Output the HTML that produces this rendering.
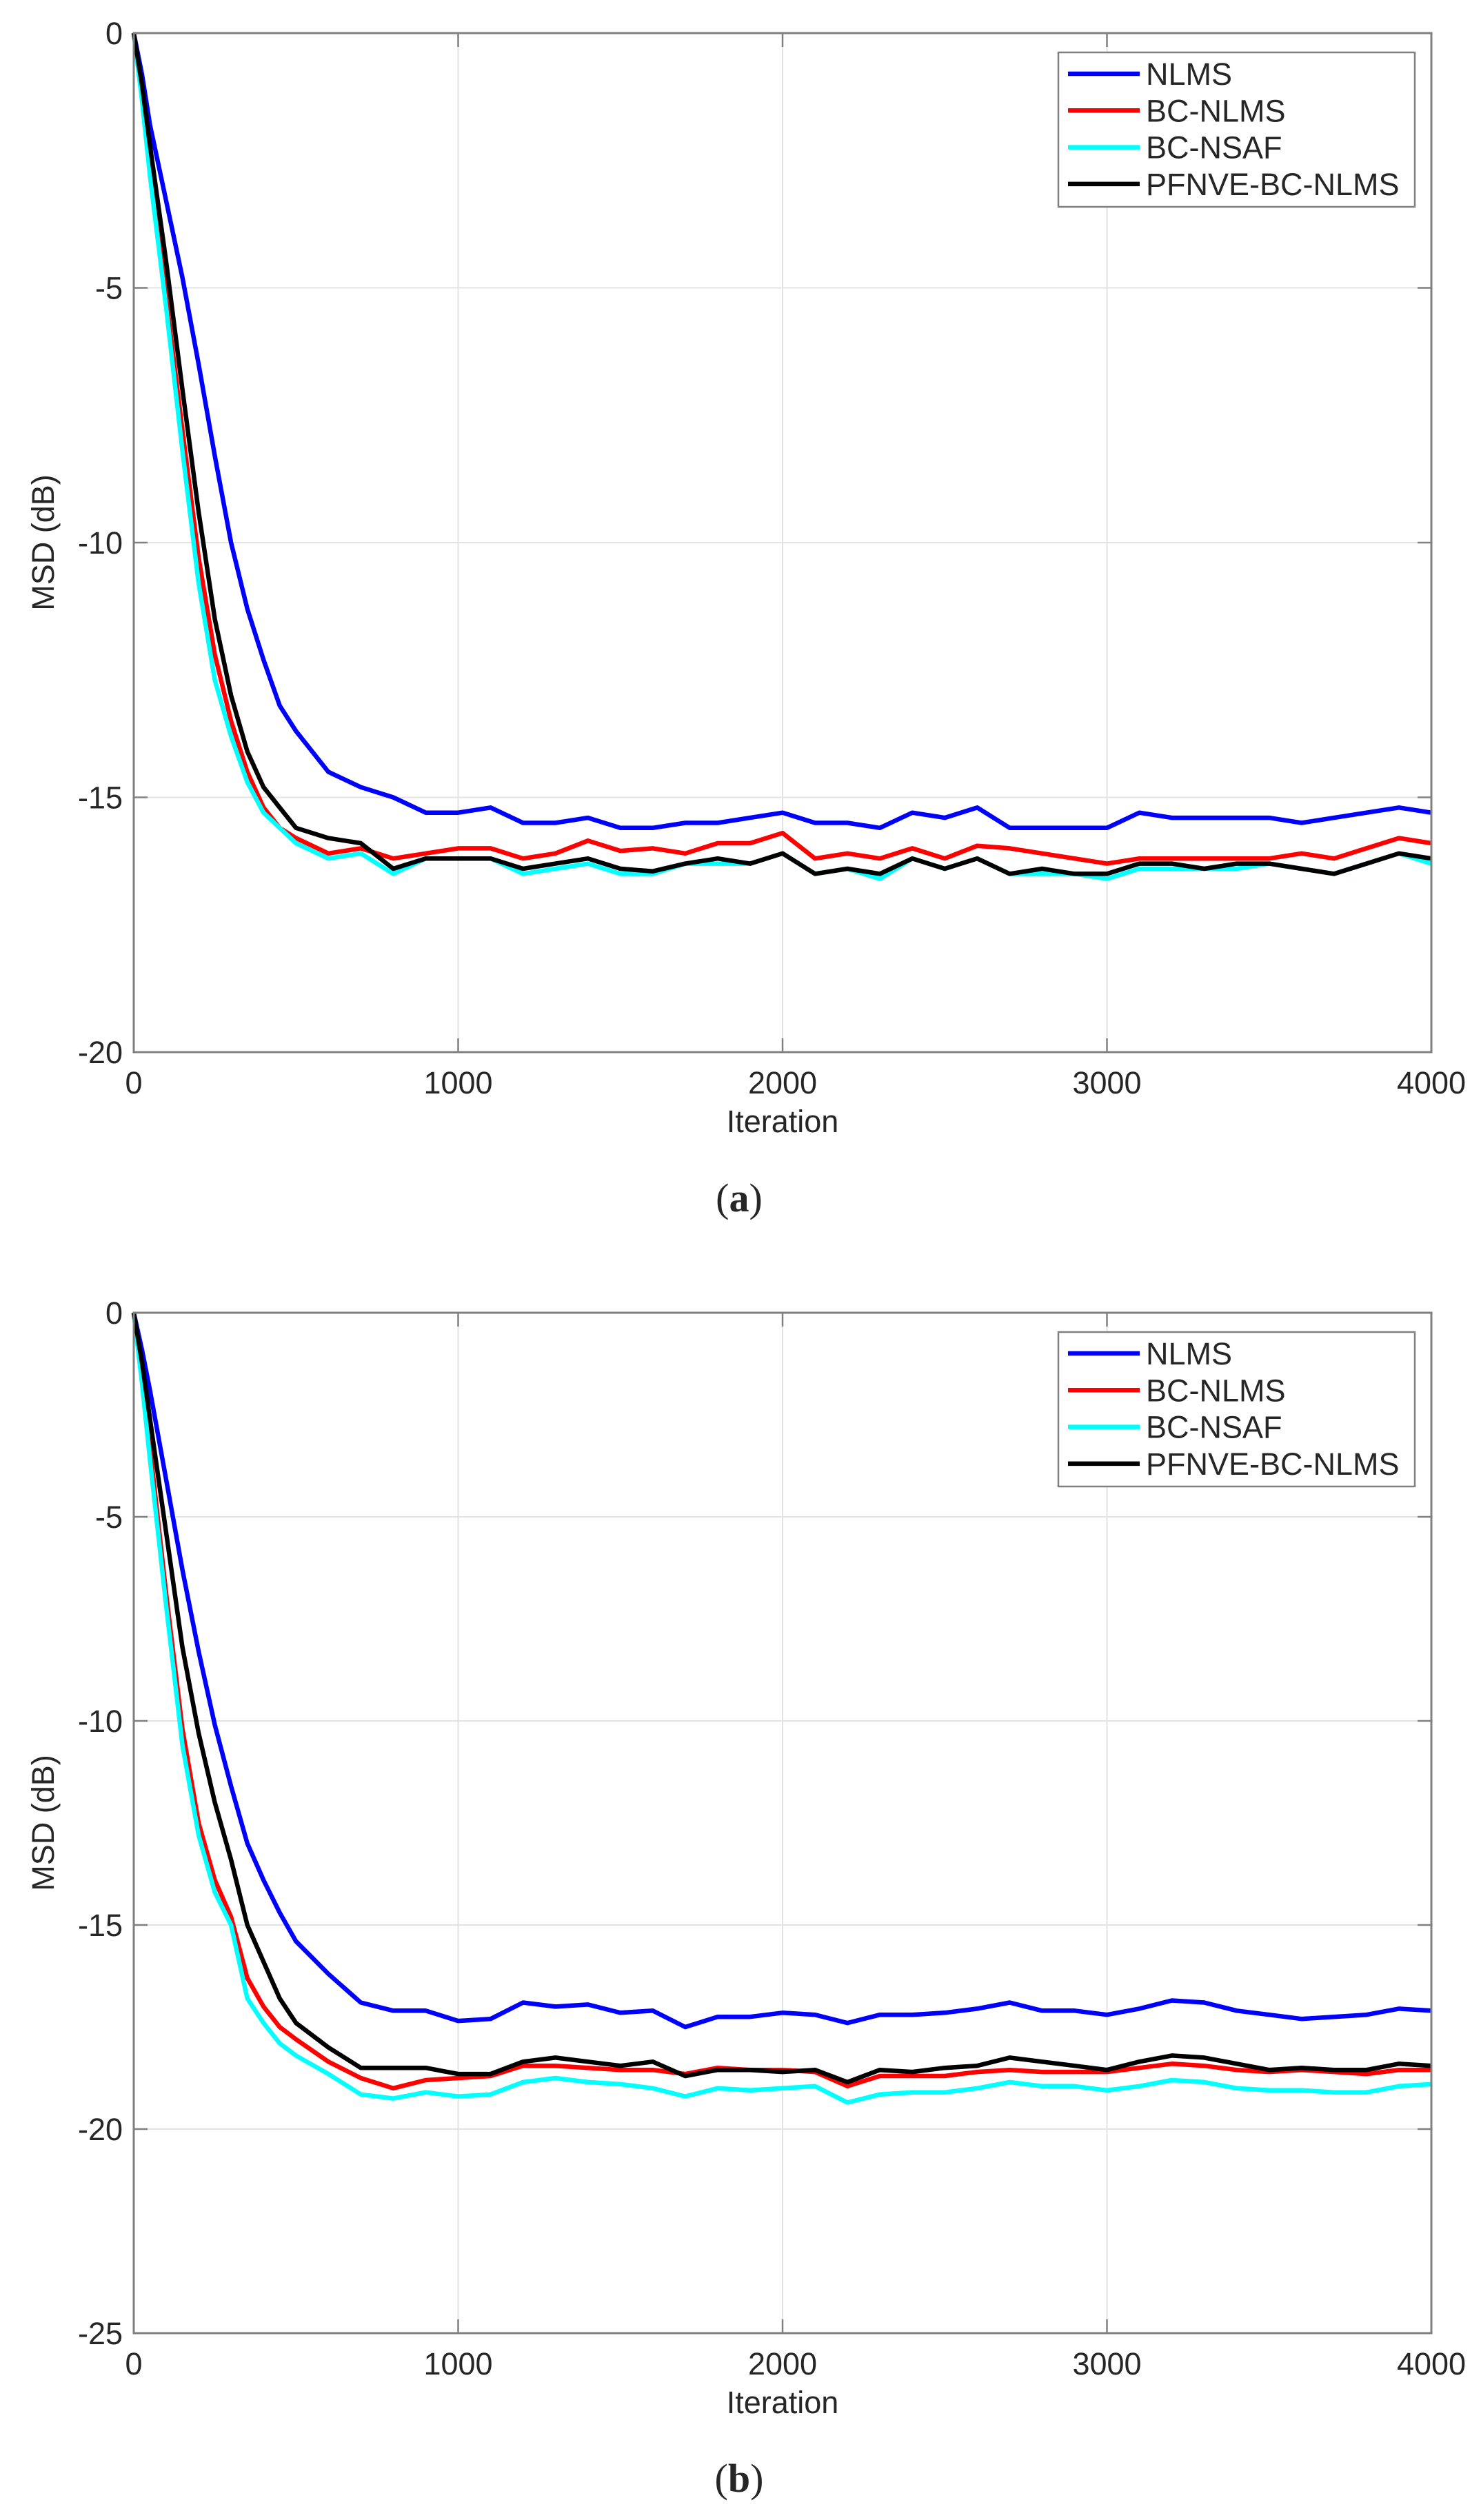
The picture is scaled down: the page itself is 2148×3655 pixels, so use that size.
<!DOCTYPE html>
<html><head><meta charset="utf-8"><style>
html,body{margin:0;padding:0;background:#fff;}
svg{display:block;}
text{font-family:"Liberation Sans",sans-serif;fill:#262626;}
</style></head><body>
<svg id="fig" width="2148" height="3655" viewBox="0 0 2148 3655" xmlns="http://www.w3.org/2000/svg"></svg>
<script>
// ---- shared data ----
const iters = [0,25,50,100,150,200,250,300,350,400,450,500,600,700,800,900,1000,1100,1200,1300,1400,1500,1600,1700,1800,1900,2000,2100,2200,2300,2400,2500,2600,2700,2800,2900,3000,3100,3200,3300,3400,3500,3600,3700,3800,3900,4000];
const seriesNames = ["NLMS","BC-NLMS","BC-NSAF","PFNVE-BC-NLMS"];
const xTicks = [0,1000,2000,3000,4000];
const yTicksA = [0,-5,-10,-15,-20];
const yTicksB = [0,-5,-10,-15,-20,-25];
// ---- panel (a) ----
const nlmsA = [0,-0.8,-1.8,-3.3,-4.8,-6.5,-8.3,-10.0,-11.3,-12.3,-13.2,-13.7,-14.5,-14.8,-15.0,-15.3,-15.3,-15.2,-15.5,-15.5,-15.4,-15.6,-15.6,-15.5,-15.5,-15.4,-15.3,-15.5,-15.5,-15.6,-15.3,-15.4,-15.2,-15.6,-15.6,-15.6,-15.6,-15.3,-15.4,-15.4,-15.4,-15.4,-15.5,-15.4,-15.3,-15.2,-15.3];
const bcnlmsA = [0,-1.2,-2.6,-5.2,-7.8,-10.3,-12.2,-13.5,-14.5,-15.2,-15.6,-15.8,-16.1,-16.0,-16.2,-16.1,-16.0,-16.0,-16.2,-16.1,-15.85,-16.05,-16.0,-16.1,-15.9,-15.9,-15.7,-16.2,-16.1,-16.2,-16.0,-16.2,-15.95,-16.0,-16.1,-16.2,-16.3,-16.2,-16.2,-16.2,-16.2,-16.2,-16.1,-16.2,-16.0,-15.8,-15.9];
const bcnsafA = [0,-1.3,-2.8,-5.4,-8.2,-10.8,-12.7,-13.8,-14.7,-15.3,-15.6,-15.9,-16.2,-16.1,-16.5,-16.2,-16.2,-16.2,-16.5,-16.4,-16.3,-16.5,-16.5,-16.3,-16.3,-16.3,-16.1,-16.5,-16.4,-16.6,-16.2,-16.4,-16.2,-16.5,-16.5,-16.5,-16.6,-16.4,-16.4,-16.4,-16.4,-16.3,-16.4,-16.5,-16.3,-16.1,-16.3];
const pfnveA = [0,-1.0,-2.2,-4.5,-7.0,-9.4,-11.5,-13.0,-14.1,-14.8,-15.2,-15.6,-15.8,-15.9,-16.4,-16.2,-16.2,-16.2,-16.4,-16.3,-16.2,-16.4,-16.45,-16.3,-16.2,-16.3,-16.1,-16.5,-16.4,-16.5,-16.2,-16.4,-16.2,-16.5,-16.4,-16.5,-16.5,-16.3,-16.3,-16.4,-16.3,-16.3,-16.4,-16.5,-16.3,-16.1,-16.2];
// ---- panel (b) ----
const nlmsB = [0,-0.9,-1.9,-4.1,-6.3,-8.3,-10.1,-11.6,-13.0,-13.9,-14.7,-15.4,-16.2,-16.9,-17.1,-17.1,-17.35,-17.3,-16.9,-17.0,-16.95,-17.15,-17.1,-17.5,-17.25,-17.25,-17.15,-17.2,-17.4,-17.2,-17.2,-17.15,-17.05,-16.9,-17.1,-17.1,-17.2,-17.05,-16.85,-16.9,-17.1,-17.2,-17.3,-17.25,-17.2,-17.05,-17.1];
const bcnlmsB = [0,-1.6,-3.3,-6.9,-10.2,-12.5,-13.9,-14.8,-16.3,-17.0,-17.5,-17.8,-18.35,-18.75,-19.0,-18.8,-18.75,-18.7,-18.45,-18.45,-18.5,-18.55,-18.55,-18.65,-18.5,-18.55,-18.55,-18.6,-18.95,-18.7,-18.7,-18.7,-18.6,-18.55,-18.6,-18.6,-18.6,-18.5,-18.4,-18.45,-18.55,-18.6,-18.55,-18.6,-18.65,-18.55,-18.55];
const bcnsafB = [0,-1.7,-3.6,-7.2,-10.6,-12.8,-14.2,-15.0,-16.8,-17.4,-17.9,-18.2,-18.65,-19.15,-19.25,-19.1,-19.2,-19.15,-18.85,-18.75,-18.85,-18.9,-19.0,-19.2,-19.0,-19.05,-19.0,-18.95,-19.35,-19.15,-19.1,-19.1,-19.0,-18.85,-18.95,-18.95,-19.05,-18.95,-18.8,-18.85,-19.0,-19.05,-19.05,-19.1,-19.1,-18.95,-18.9];
const pfnveB = [0,-1.2,-2.6,-5.4,-8.2,-10.3,-12.0,-13.4,-15.0,-15.9,-16.8,-17.4,-18.0,-18.5,-18.5,-18.5,-18.65,-18.65,-18.35,-18.25,-18.35,-18.45,-18.35,-18.7,-18.55,-18.55,-18.6,-18.55,-18.85,-18.55,-18.6,-18.5,-18.45,-18.25,-18.35,-18.45,-18.55,-18.35,-18.2,-18.25,-18.4,-18.55,-18.5,-18.55,-18.55,-18.4,-18.45];

const colors = ["#0000ff","#ff0000","#00ffff","#000000"];
const NS = "http://www.w3.org/2000/svg";
const svg = document.getElementById("fig");
function mk(tag, attrs, parent){
  const e = document.createElementNS(NS, tag);
  for (const k in attrs) e.setAttribute(k, attrs[k]);
  (parent||svg).appendChild(e);
  return e;
}
function panel(id, top, yMin, yTicks, series, caption, capY){
  const L=194, R=2076, T=top, pxPerDb=(id==="a")?73.9:59.2;
  const B=T+(-yMin)*pxPerDb;
  const xs = v => L + (v/4000)*(R-L);
  const ys = v => T + (-v)*pxPerDb;
  const g = mk("g",{});
  
  
  xTicks.forEach(t=>{ if(t>0&&t<4000){ const l=mk("line",{x1:xs(t),x2:xs(t),y1:T,y2:B,stroke:"#e3e3e3","stroke-width":2},g);
    
    }});
  yTicks.forEach(t=>{ if(t<0&&t>yMin){ const l=mk("line",{x1:L,x2:R,y1:ys(t),y2:ys(t),stroke:"#e3e3e3","stroke-width":2},g);
    
    }});
  const sg = mk("g",{},g);
  series.forEach((arr,i)=>{
    const d = arr.map((v,j)=>(j?"L":"M")+xs(iters[j]).toFixed(1)+","+ys(v).toFixed(1)).join("");
    const p = mk("path",{d:d,fill:"none",stroke:colors[i],"stroke-width":6.5,"stroke-linejoin":"round"},sg);
    
    
  });
  const box = mk("rect",{x:L,y:T,width:R-L,height:B-T,fill:"none",stroke:"#808080","stroke-width":3},g);
  
  
  xTicks.forEach(t=>{
    mk("line",{x1:xs(t),x2:xs(t),y1:B,y2:B-20,stroke:"#808080","stroke-width":2.5},g);
    mk("line",{x1:xs(t),x2:xs(t),y1:T,y2:T+20,stroke:"#808080","stroke-width":2.5},g);
    const tx = mk("text",{x:xs(t),y:B+60,"font-size":45,"text-anchor":"middle"},g);
    tx.textContent = t;
    
    
  });
  yTicks.forEach(t=>{
    mk("line",{x1:L,x2:L+20,y1:ys(t),y2:ys(t),stroke:"#808080","stroke-width":2.5},g);
    mk("line",{x1:R,x2:R-20,y1:ys(t),y2:ys(t),stroke:"#808080","stroke-width":2.5},g);
    const tx = mk("text",{x:L-16,y:ys(t)+16,"font-size":45,"text-anchor":"end"},g);
    tx.textContent = t===0?"0":"-"+(-t);
    
    
  });
  const xl = mk("text",{x:(L+R)/2,y:B+116,"font-size":45,"text-anchor":"middle"},g);
  xl.textContent="Iteration";
  
  
  const yl = mk("text",{x:0,y:0,"font-size":45,"text-anchor":"middle",transform:"translate(78,"+((T+B)/2)+") rotate(-90)"},g);
  yl.textContent="MSD (dB)";
  
  
  const lg = mk("g",{},g);
  
  
  mk("rect",{x:1535,y:T+28,width:517,height:224,fill:"#fff",stroke:"#808080","stroke-width":2.5},lg);
  seriesNames.forEach((n,i)=>{
    const yy = T+59+i*53.3;
    const e = mk("g",{},lg);
    
    
    mk("line",{x1:1549,x2:1653,y1:yy,y2:yy,stroke:colors[i],"stroke-width":6.5},e);
    const t = mk("text",{x:1662,y:yy+16,"font-size":45},e);
    t.textContent=n;
  });
  const cap = mk("text",{x:1072,y:capY,"font-size":58,"text-anchor":"middle",style:"font-family:'Liberation Serif',serif"},g);
  cap.innerHTML = '(<tspan font-weight="bold">'+caption+'</tspan>)';
  
  
}
panel("a",48,-20,yTicksA,[nlmsA,bcnlmsA,bcnsafA,pfnveA],"a",1757);
panel("b",1904,-25,yTicksB,[nlmsB,bcnlmsB,bcnsafB,pfnveB],"b",3614);
</script>
</body></html>
